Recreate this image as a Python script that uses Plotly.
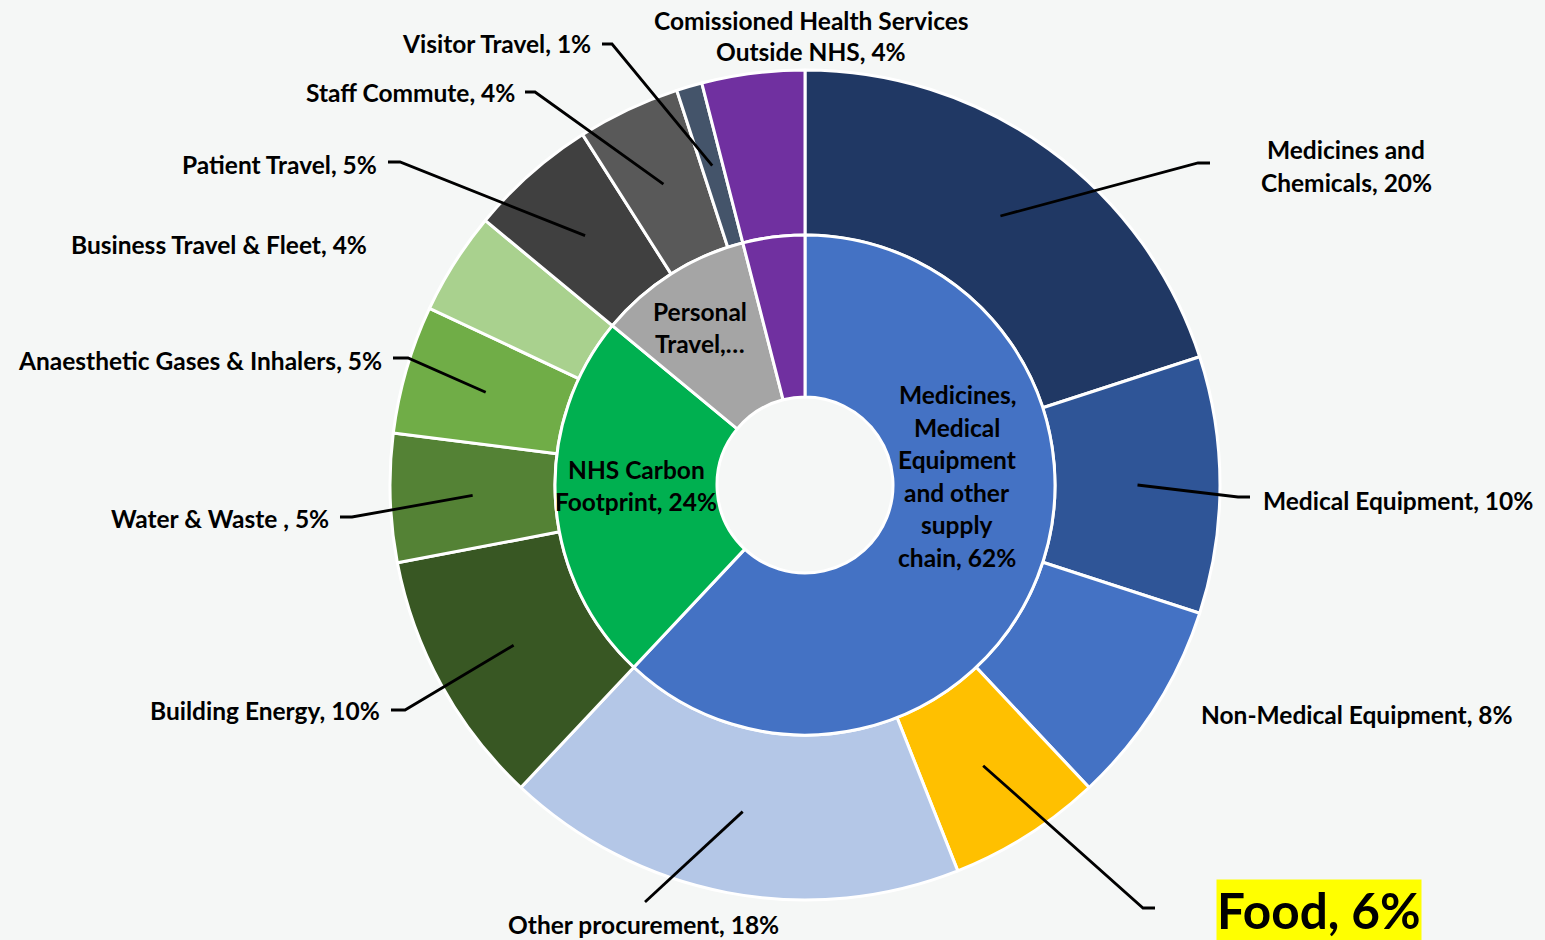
import math
import plotly.graph_objects as go

# ---------------- data ----------------
inner_labels = ["Medicines, Medical Equipment and other supply chain",
                "NHS Carbon Footprint", "Personal Travel",
                "Comissioned Health Services Outside NHS"]
inner_values = [62, 24, 10, 4]
inner_colors = ["#4472C4", "#00B050", "#A5A5A5", "#7030A0"]

outer_labels = ["Medicines and Chemicals", "Medical Equipment", "Non-Medical Equipment",
                "Food", "Other procurement", "Building Energy", "Water & Waste ",
                "Anaesthetic Gases & Inhalers", "Business Travel & Fleet",
                "Patient Travel", "Staff Commute", "Visitor Travel",
                "Comissioned Health Services Outside NHS"]
outer_values = [20, 10, 8, 6, 18, 10, 5, 5, 4, 5, 4, 1, 4]
outer_colors = ["#203864", "#2F5597", "#4472C4", "#FFC000", "#B4C7E7",
                "#385723", "#548235", "#70AD47", "#A9D18E",
                "#404040", "#595959", "#44546A", "#7030A0"]

# ---------------- layout geometry (pixels) ----------------
W, H = 1545, 940
CX, CY = 805, 485
R_OUT, R_MID, R_HOLE = 415, 250, 88
BG = "#F5F7F6"
FONT = "Lato"
FS = 24.5


def dom(r):
    return dict(x=[(CX - r) / W, (CX + r) / W], y=[(H - CY - r) / H, (H - CY + r) / H])


def px(x, y):
    return x / W, 1 - y / H


fig = go.Figure()
fig.add_trace(go.Pie(labels=outer_labels, values=outer_values, sort=False,
                     direction="clockwise", rotation=0, hole=R_MID / R_OUT,
                     marker=dict(colors=outer_colors, line=dict(color="white", width=3)),
                     textinfo="none", hoverinfo="label+value", domain=dom(R_OUT),
                     showlegend=False))
fig.add_trace(go.Pie(labels=inner_labels, values=inner_values, sort=False,
                     direction="clockwise", rotation=0, hole=R_HOLE / R_MID,
                     marker=dict(colors=inner_colors, line=dict(color="white", width=3)),
                     textinfo="none", hoverinfo="label+value", domain=dom(R_MID),
                     showlegend=False))

annotations = []


def add_text(lines, x, y, anchor="center", size=FS, spacing=32, **kw):
    n = len(lines)
    for i, t in enumerate(lines):
        yy = y + (i - (n - 1) / 2) * spacing
        ax, ay = px(x, yy)
        annotations.append(dict(text=t, x=ax, y=ay, xref="paper", yref="paper",
                                xanchor=anchor, yanchor="middle", showarrow=False,
                                font=dict(family=FONT, size=size, color="black", weight="bold"),
                                **kw))


# outer label text
lab = {l: f"{l}, {v}%" for l, v in zip(outer_labels, outer_values)}
add_text(["Comissioned Health Services", "Outside NHS, 4%"], 811, 36)
add_text([lab["Visitor Travel"]], 593, 44, "right")
add_text([lab["Staff Commute"]], 517, 92, "right")
add_text([lab["Patient Travel"]], 379, 164, "right")
add_text([lab["Business Travel & Fleet"]], 369, 244, "right")
add_text([lab["Anaesthetic Gases & Inhalers"]], 384, 360, "right")
add_text([lab["Water & Waste "]], 331, 518, "right")
add_text([lab["Building Energy"]], 382, 710, "right")
add_text([lab["Other procurement"]], 643, 924)
add_text([lab["Non-Medical Equipment"]], 1357, 714)
add_text([lab["Medical Equipment"]], 1398, 500)
add_text(["Medicines and", "Chemicals, 20%"], 1346, 166)
add_text([lab["Food"]], 1319, 910, size=49.5, bgcolor="#FFFF00", borderpad=0)

# inner label text
add_text(["Personal", "Travel,…"], 700, 327)
add_text(["NHS Carbon", "Footprint, 24%"], 636, 485)
add_text(["Medicines,", "Medical", "Equipment", "and other", "supply", "chain, 62%"], 957, 476,
         spacing=32.6)

# leader lines: start at each slice's angular midpoint in the outer ring
mid_r = (R_OUT + R_MID) / 2
total = sum(outer_values)
starts = {}
cum = 0
for l, v in zip(outer_labels, outer_values):
    th = 2 * math.pi * (cum + v / 2) / total
    starts[l] = (CX + mid_r * math.sin(th), CY - mid_r * math.cos(th))
    cum += v

leaders = {
    "Visitor Travel": [(612, 44), (602, 44)],
    "Staff Commute": [(535, 92), (525, 92)],
    "Patient Travel": [(400, 162), (388, 162)],
    "Anaesthetic Gases & Inhalers": [(408, 358), (393, 358)],
    "Water & Waste ": [(352, 517), (340, 517)],
    "Building Energy": [(405, 710), (391, 710)],
    "Other procurement": [(645, 902)],
    "Food": [(1143, 908), (1155, 908)],
    "Medical Equipment": [(1238, 497), (1250, 497)],
    "Medicines and Chemicals": [(1198, 163), (1210, 163)],
}
shapes = []
for l, pts in leaders.items():
    allp = [starts[l]] + pts
    path = ""
    for i, (x, y) in enumerate(allp):
        ax, ay = px(x, y)
        path += ("M" if i == 0 else "L") + f"{ax:.5f},{ay:.5f} "
    shapes.append(dict(type="path", path=path.strip(), xref="paper", yref="paper",
                       line=dict(color="black", width=2.8)))

fig.update_layout(width=W, height=H, margin=dict(l=0, r=0, t=0, b=0),
                  paper_bgcolor=BG, plot_bgcolor=BG,
                  annotations=annotations, shapes=shapes, showlegend=False)
fig.write_html("out.html")
